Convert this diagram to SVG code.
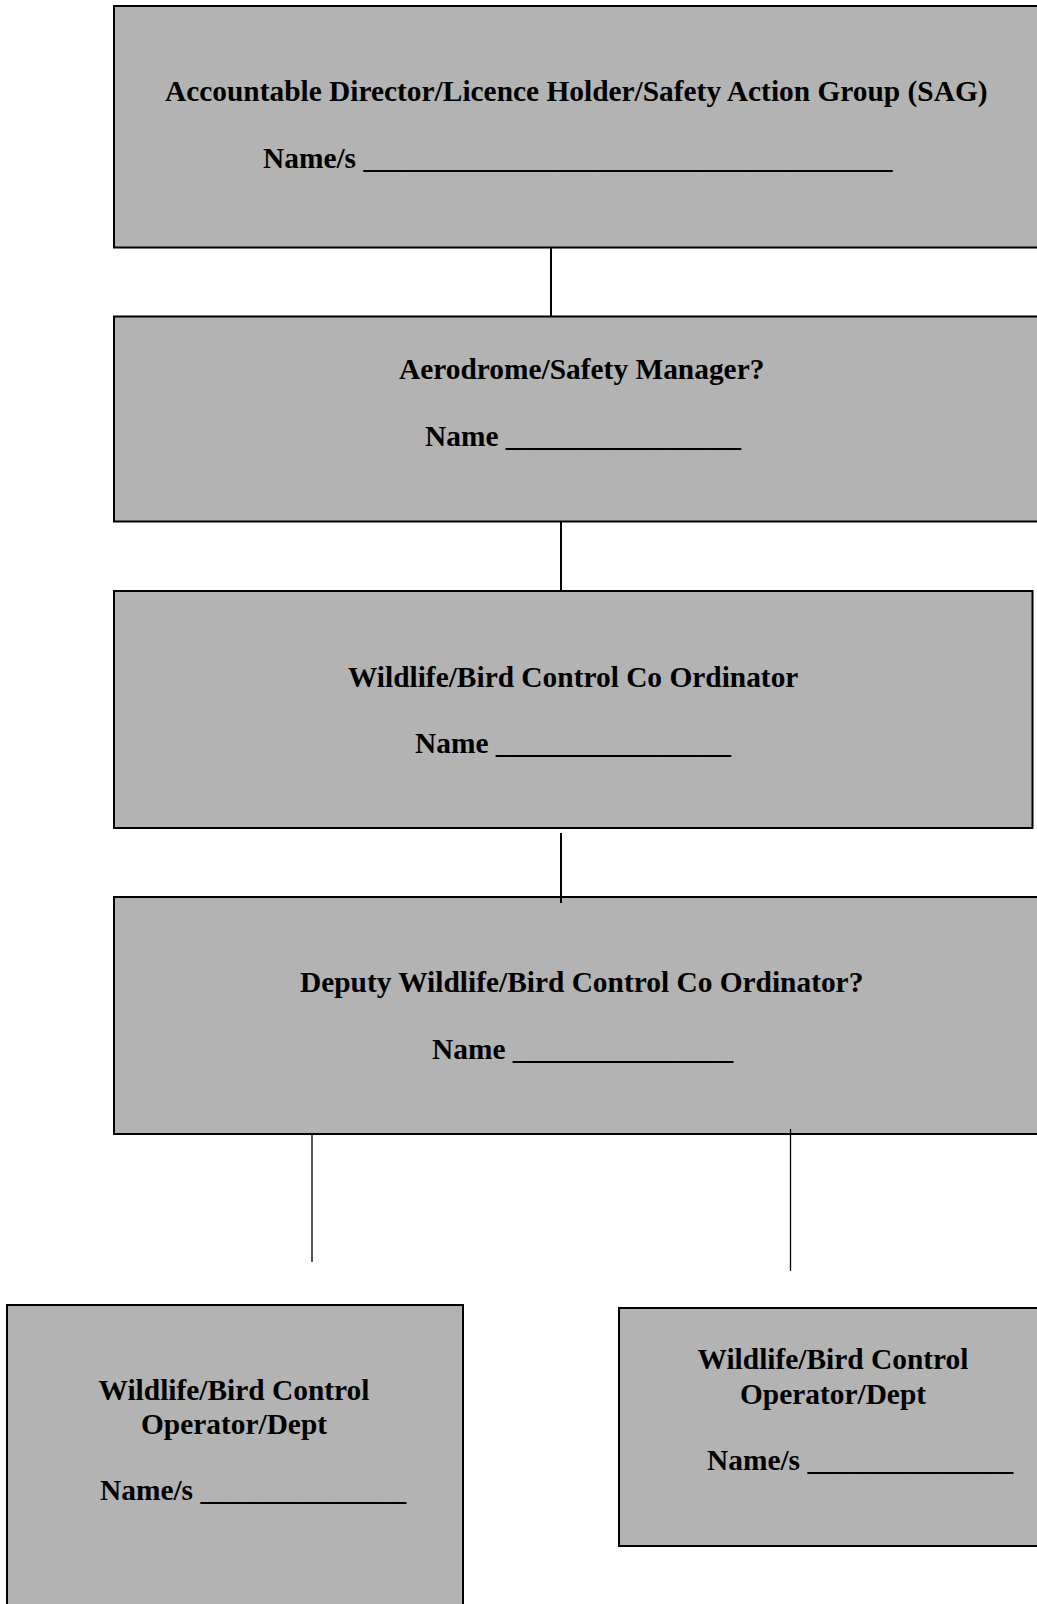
<svg xmlns="http://www.w3.org/2000/svg" width="1037" height="1604" viewBox="0 0 1037 1604">
<style>
.box{fill:#b3b3b3;stroke:#000;stroke-width:2}
.t{font-family:"Liberation Serif","Times New Roman",serif;font-weight:bold;font-size:29.4px;fill:#000}
.c{stroke:#000;fill:none}
</style>
<rect width="1037" height="1604" fill="#fff"/>
<g id="n1">
<rect class="box" x="114" y="6" width="940" height="241.5"/>
<text class="t" x="165" y="101">Accountable Director/Licence Holder/Safety Action Group (SAG)</text>
<text class="t" x="263" y="168">Name/s ____________________________________</text>
</g>
<g id="n2">
<rect class="box" x="114" y="316.5" width="940" height="205"/>
<text class="t" x="399" y="379">Aerodrome/Safety Manager?</text>
<text class="t" x="425" y="446">Name ________________</text>
</g>
<g id="n3">
<rect class="box" x="114" y="591" width="918.5" height="237"/>
<text class="t" x="348" y="687">Wildlife/Bird Control Co Ordinator</text>
<text class="t" x="415" y="753">Name ________________</text>
</g>
<g id="n4">
<rect class="box" x="114" y="897" width="940" height="237"/>
<text class="t" x="300" y="992">Deputy Wildlife/Bird Control Co Ordinator?</text>
<text class="t" x="432" y="1059">Name _______________</text>
</g>
<g id="n5">
<rect class="box" x="7" y="1305" width="456" height="320"/>
<text class="t" x="234" y="1400" text-anchor="middle">Wildlife/Bird Control</text>
<text class="t" x="234" y="1434" text-anchor="middle">Operator/Dept</text>
<text class="t" x="100" y="1500">Name/s ______________</text>
</g>
<g id="n6">
<rect class="box" x="619" y="1308" width="440" height="238"/>
<text class="t" x="833" y="1369" text-anchor="middle">Wildlife/Bird Control</text>
<text class="t" x="833" y="1404" text-anchor="middle">Operator/Dept</text>
<text class="t" x="707" y="1470">Name/s ______________</text>
</g>
<g id="connectors">
<line class="c" x1="551" y1="248" x2="551" y2="316" stroke-width="2"/>
<line class="c" x1="561" y1="522" x2="561" y2="592" stroke-width="2"/>
<line class="c" x1="561" y1="833" x2="561" y2="903" stroke-width="2"/>
<line class="c" x1="312" y1="1134" x2="312" y2="1262" stroke-width="1.3"/>
<line class="c" x1="790.5" y1="1129" x2="790.5" y2="1271" stroke-width="1.3"/>
</g>
</svg>
